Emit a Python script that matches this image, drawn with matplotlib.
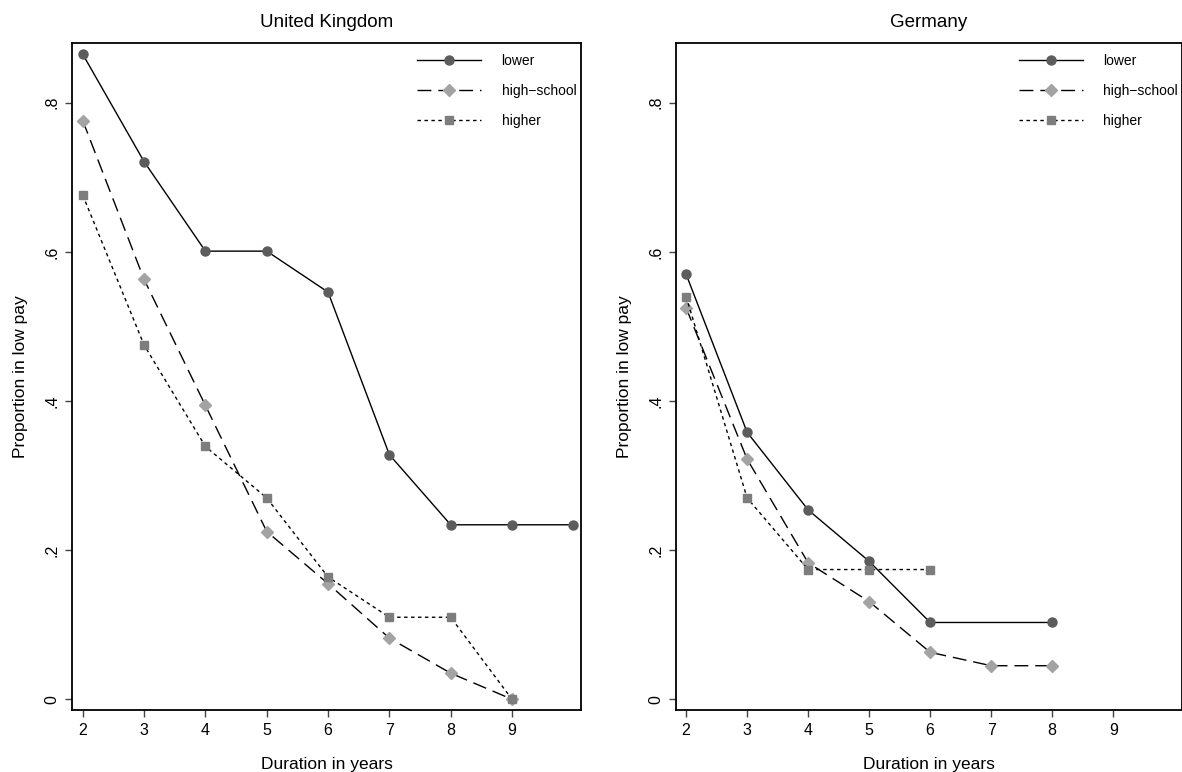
import matplotlib
matplotlib.use("Agg")
import matplotlib.pyplot as plt
from matplotlib.lines import Line2D

plt.rcParams['font.family'] = ['Liberation Sans', 'DejaVu Sans']

categories = ["lower", "high-school", "higher"]

# United Kingdom
uk_x_lower = [2, 3, 4, 5, 6, 7, 8, 9, 10]
uk_lower = [0.865, 0.721, 0.601, 0.601, 0.546, 0.328, 0.234, 0.234, 0.234]
uk_x_high = [2, 3, 4, 5, 6, 7, 8, 9]
uk_highschool = [0.776, 0.563, 0.394, 0.225, 0.155, 0.082, 0.035, 0.0]
uk_x_higher = [2, 3, 4, 5, 6, 7, 8, 9]
uk_higher = [0.676, 0.475, 0.339, 0.270, 0.164, 0.110, 0.110, 0.0]

# Germany
de_x_lower = [2, 3, 4, 5, 6, 8]
de_lower = [0.570, 0.358, 0.254, 0.185, 0.103, 0.103]
de_x_high = [2, 3, 4, 5, 6, 7, 8]
de_highschool = [0.525, 0.322, 0.183, 0.131, 0.063, 0.045, 0.045]
de_x_higher = [2, 3, 4, 5, 6]
de_higher = [0.540, 0.270, 0.174, 0.174, 0.174]

xticks = [2, 3, 4, 5, 6, 7, 8, 9]
yticks = [0, 0.2, 0.4, 0.6, 0.8]
ytick_labels = ["0", ".2", ".4", ".6", ".8"]

styles = {
    "lower": dict(color="black", lw=1.0, ls="-", marker="o", ms=6.5,
                  mfc="#5c5c5c", mec="#5c5c5c"),
    "high-school": dict(color="black", lw=1.0, ls=(0, (10, 5)), marker="D", ms=6,
                        mfc="#a3a3a3", mec="#a3a3a3"),
    "higher": dict(color="black", lw=1.0, ls=(0, (2.5, 2.5)), marker="s", ms=6,
                   mfc="#7d7d7d", mec="#7d7d7d"),
}

fig = plt.figure(figsize=(11.82, 7.72), dpi=100)
ax1 = fig.add_axes([0.0612, 0.0799, 0.4301, 0.864])
ax2 = fig.add_axes([0.5717, 0.0799, 0.4279, 0.864])

panels = [
    (ax1, "United Kingdom", [(uk_x_lower, uk_lower), (uk_x_high, uk_highschool), (uk_x_higher, uk_higher)]),
    (ax2, "Germany", [(de_x_lower, de_lower), (de_x_high, de_highschool), (de_x_higher, de_higher)]),
]

for ax, title, series in panels:
    for name, (xs, ys) in zip(categories, series):
        ax.plot(xs, ys, label=name, **styles[name])
    ax.set_xlim(1.83, 10.12)
    ax.set_ylim(-0.0148, 0.8797)
    ax.set_xticks(xticks)
    ax.set_yticks(yticks)
    ax.set_yticklabels(ytick_labels, rotation=90, va="center")
    ax.tick_params(direction="out", length=5, width=1, color="#444444",
                   labelsize=11.5, pad=4)
    for sp in ax.spines.values():
        sp.set_linewidth(1.3)
    ax.set_title(title, fontsize=13.5, pad=12)
    ax.set_xlabel("Duration in years", fontsize=12.5, labelpad=14)
    ax.set_ylabel("Proportion in low pay", fontsize=12.5, labelpad=12)
    handles = [Line2D([], [], **styles[n]) for n in categories]
    labels = ["lower", "high\u2212school", "higher"]
    ax.legend(handles, labels, loc="upper left", bbox_to_anchor=(0.668, 0.9925),
              frameon=False, fontsize=10, handlelength=4.6, handletextpad=1.45,
              labelspacing=1.15, borderaxespad=0, markerfirst=True)

fig.savefig("out.png", dpi=100)
